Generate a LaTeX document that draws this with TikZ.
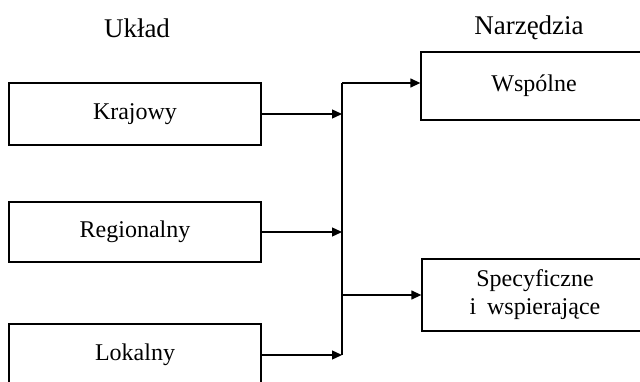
\documentclass[tikz,border=0pt]{standalone}
\usepackage{fontspec}
\setmainfont{Liberation Serif}
\usetikzlibrary{arrows.meta}
\tikzset{
  box/.style={draw, line width=1.3pt, minimum width=252pt, inner sep=0pt,
    font=\fontsize{24}{28}\selectfont, align=center},
  rbox/.style={box, minimum width=226pt},
  head/.style={font=\fontsize{27}{32}\selectfont, inner sep=0pt},
  arr/.style={line width=1.3pt, -{Triangle[length=10pt,width=9pt]}},
  conn/.style={line width=1.3pt}
}
\begin{document}
\begin{tikzpicture}[x=1pt,y=-1pt]
\useasboundingbox (0,0) rectangle (640,382);
\clip (0,0) rectangle (640,382);
\node[head] (uklad) at (137,28) {Układ};
\node[head] (narz) at (529,28) {Narzędzia};
\node[box, minimum height=62pt] (kra) at (135,114) {Krajowy};
\node[box, minimum height=60pt] (reg) at (135,232) {Regionalny};
\node[box, minimum height=62pt] (lok) at (135,355) {Lokalny};
\node[rbox, minimum height=68pt] (wsp) at (534,86) {\raisebox{3pt}{Wspólne}};
\node[rbox, minimum height=72pt] (spc) at (535,295) {Specyficzne\\i\hspace{0.45em}wspierające};
\coordinate (top) at (342,83);
\coordinate (sp) at (342,295);
\draw[conn] (top) -- (lok.east -| top);
\draw[arr] (kra.east) -- (kra.east -| top);
\draw[arr] (reg.east) -- (reg.east -| top);
\draw[arr] (lok.east) -- (lok.east -| top);
\draw[arr] (top) -- (top -| wsp.west);
\draw[arr] (sp) -- (sp -| spc.west);
\end{tikzpicture}
\end{document}
